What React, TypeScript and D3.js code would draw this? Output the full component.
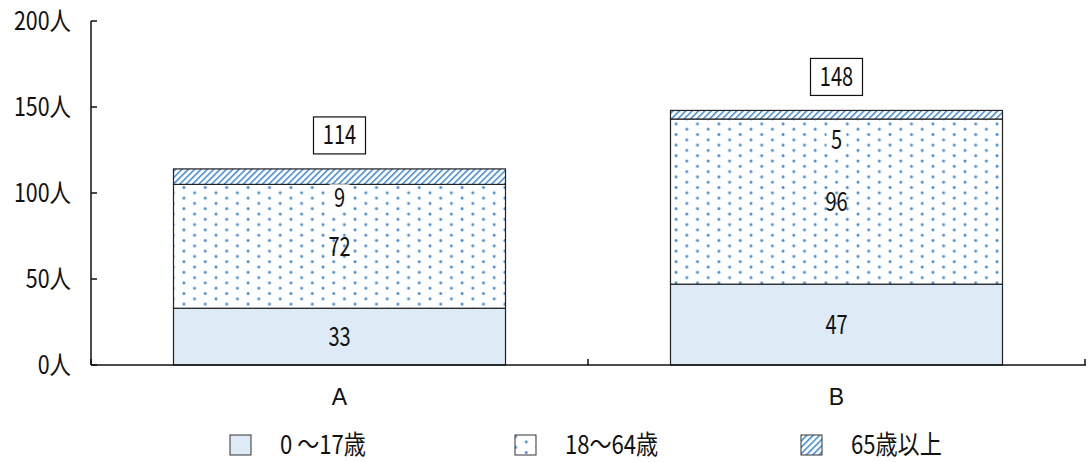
import React, {useEffect, useRef} from 'react';
import * as d3 from 'd3';

const categories = ['A', 'B'];
const seriesNames = ['0 ～17歳', '18～64歳', '65歳以上'];
const young = [33, 47];
const adult = [72, 96];
const senior = [9, 5];
const totals = [114, 148];
const yTicks = [0, 50, 100, 150, 200];

const FONT = '"Noto Sans CJK JP", "Noto Sans", sans-serif';

// text drawn squeezed horizontally, the original uses a narrow font
const addText = (
  g: d3.Selection<SVGGElement, unknown, null, undefined>,
  x: number,
  y: number,
  str: string | number,
  anchor: string,
  size: number,
  sx: number
) =>
  g
    .append('text')
    .attr('transform', `translate(${x},${y}) scale(${sx},1)`)
    .attr('dy', '0.36em')
    .attr('text-anchor', anchor)
    .attr('font-family', FONT)
    .attr('font-size', size)
    .attr('fill', '#111')
    .text(str);

const App = () => {
  const ref = useRef<SVGSVGElement>(null);
  const width = 1088,
    height = 462;

  useEffect(() => {
    document.body.style.margin = '0';
    const svg = d3.select(ref.current);
    svg.selectAll('*').remove();

    // patterns
    const defs = svg.append('defs');
    const dots = defs
      .append('pattern')
      .attr('id', 'dots')
      .attr('patternUnits', 'userSpaceOnUse')
      .attr('width', 21.4)
      .attr('height', 10.6);
    dots.append('rect').attr('width', 21.4).attr('height', 10.6).attr('fill', '#fff');
    dots.append('circle').attr('cx', 2).attr('cy', 2).attr('r', 1.5).attr('fill', '#4a8fd4');
    dots.append('circle').attr('cx', 12.7).attr('cy', 7.3).attr('r', 1.5).attr('fill', '#4a8fd4');

    const hatch = defs
      .append('pattern')
      .attr('id', 'hatch')
      .attr('patternUnits', 'userSpaceOnUse')
      .attr('width', 4.5)
      .attr('height', 4.5)
      .attr('patternTransform', 'rotate(45)');
    hatch.append('rect').attr('width', 4.5).attr('height', 4.5).attr('fill', '#fff');
    hatch.append('rect').attr('width', 1.6).attr('height', 4.5).attr('fill', '#4a8fd4');

    const fills = ['#deebf7', 'url(#dots)', 'url(#hatch)'];

    const x = d3
      .scaleBand<string>()
      .domain(categories)
      .range([91, 1085])
      .paddingInner(0.332)
      .paddingOuter(0.166);
    const y = d3.scaleLinear().domain([0, 200]).range([365, 21]);

    // y axis
    const yAxis = svg.append('g');
    yAxis
      .append('line')
      .attr('x1', 91)
      .attr('x2', 91)
      .attr('y1', y(0))
      .attr('y2', y(200))
      .attr('stroke', '#111')
      .attr('stroke-width', 1.5);
    yTicks.forEach(t => {
      yAxis
        .append('line')
        .attr('x1', 91)
        .attr('x2', 97)
        .attr('y1', y(t))
        .attr('y2', y(t))
        .attr('stroke', '#111')
        .attr('stroke-width', 1.5);
      addText(yAxis, 71, y(t), `${t}人`, 'end', 25.5, 0.84);
    });

    // stacked bars
    const stacked = categories.map((c, i) => {
      const vals = [young[i], adult[i], senior[i]];
      let acc = 0;
      return vals.map((v, k) => {
        const seg = {cat: c, k, v, y0: acc, y1: acc + v};
        acc += v;
        return seg;
      });
    });

    const bars = svg.append('g');
    stacked.forEach(segs => {
      segs.forEach(s => {
        bars
          .append('rect')
          .attr('x', x(s.cat)!)
          .attr('width', x.bandwidth())
          .attr('y', y(s.y1))
          .attr('height', y(s.y0) - y(s.y1))
          .attr('fill', fills[s.k])
          .attr('stroke', '#222')
          .attr('stroke-width', 1.2);
      });
    });

    // x axis
    const xAxis = svg.append('g');
    xAxis
      .append('line')
      .attr('x1', 91)
      .attr('x2', 1086)
      .attr('y1', y(0))
      .attr('y2', y(0))
      .attr('stroke', '#111')
      .attr('stroke-width', 1.5);
    const bounds = [91, ...categories.map(c => x(c)! + x.bandwidth() + (x.step() * x.paddingInner()) / 2)];
    bounds.forEach(b => {
      xAxis
        .append('line')
        .attr('x1', b)
        .attr('x2', b)
        .attr('y1', y(0))
        .attr('y2', y(0) - 6)
        .attr('stroke', '#111')
        .attr('stroke-width', 1.5);
    });
    categories.forEach(c => {
      xAxis
        .append('text')
        .attr('x', x(c)! + x.bandwidth() / 2)
        .attr('y', 397)
        .attr('dy', '0.36em')
        .attr('text-anchor', 'middle')
        .attr('font-family', '"Liberation Sans", sans-serif')
        .attr('font-size', 23)
        .attr('fill', '#111')
        .text(c);
    });

    // data labels
    const seniorLabelY = [97.5, 131];
    const labels = svg.append('g');
    stacked.forEach((segs, i) => {
      const cx = x(segs[0].cat)! + x.bandwidth() / 2;
      [segs[0], segs[1]].forEach(s => {
        addText(labels, cx, y((s.y0 + s.y1) / 2), s.v, 'middle', 26, 0.77);
      });
      // senior label sits below its thin segment, on a white patch
      const sy = y(seniorLabelY[i]);
      labels
        .append('rect')
        .attr('x', cx - 10)
        .attr('y', sy - 13)
        .attr('width', 20)
        .attr('height', 26)
        .attr('fill', '#fff');
      addText(labels, cx, sy, segs[2].v, 'middle', 26, 0.77);

      // total in a box
      const ty = y(totals[i]) - 34;
      labels
        .append('rect')
        .attr('x', cx - 26)
        .attr('y', ty - 18)
        .attr('width', 52)
        .attr('height', 37)
        .attr('fill', '#fff')
        .attr('stroke', '#111')
        .attr('stroke-width', 1.2);
      addText(labels, cx, ty, totals[i], 'middle', 26, 0.77);
    });

    // legend
    const legendX = [230, 515, 801];
    const legend = svg.append('g');
    seriesNames.forEach((n, k) => {
      legend
        .append('rect')
        .attr('x', legendX[k])
        .attr('y', 435)
        .attr('width', 21)
        .attr('height', 20)
        .attr('fill', fills[k])
        .attr('stroke', '#333')
        .attr('stroke-width', 1);
      addText(legend, legendX[k] + 50, 445, n, 'start', 26, 0.85);
    });
  }, []);

  return <svg ref={ref} width={width} height={height} style={{display: 'block', background: '#fff'}} />;
};

export default App;
